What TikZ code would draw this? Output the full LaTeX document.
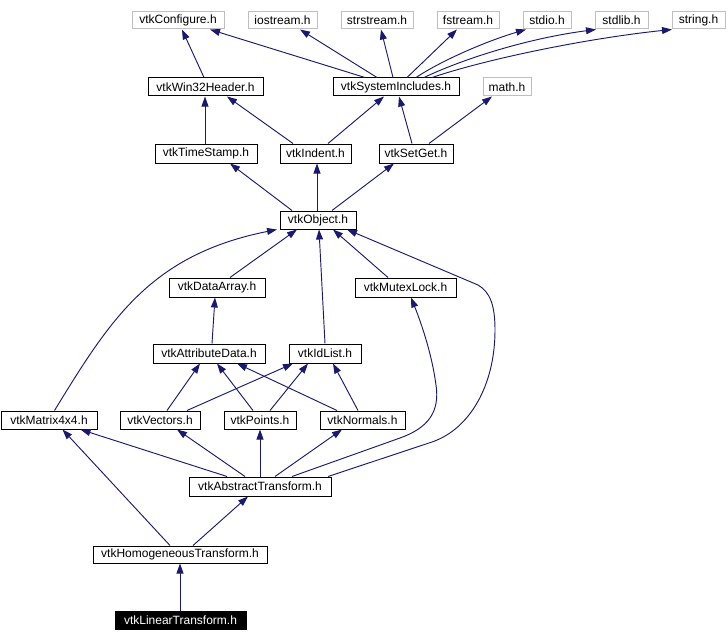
\documentclass[tikz,border=0pt]{standalone}
\usepackage{fontspec}
\setmainfont{Liberation Sans}
\usetikzlibrary{arrows.meta}
\definecolor{edgec}{HTML}{191970}
\definecolor{extc}{HTML}{BFBFBF}
% \hdr[style]{x1}{y1}{x2}{y2}{name}{text}  (pixel coordinates)
\newcommand{\hdr}[7][box]{\node[#1, minimum width={(#4-#2)*0.75pt}, minimum height={(#5-#3)*0.75pt}] (#6) at ({(#2+#4)/2},{(#3+#5)/2}) {#7};}
% \edge{src}{xoff}{dst}{xoff}
\newcommand{\edge}[4]{\draw[edgeline] ([xshift={(#2)*0.75pt}]#1.north) -- ([xshift={(#4)*0.75pt}]#3.south);}
\tikzset{
  box/.style={draw=black, line width=0.75pt, fill=white, inner sep=0pt, text=black, font=\fontsize{9}{10}\selectfont},
  ext/.style={box, draw=extc},
  cur/.style={box, fill=black, text=white},
  edgeline/.style={draw=edgec, line width=0.7pt, -{Triangle[length=7.5pt,width=5.2pt]}}
}
\begin{document}
\begin{tikzpicture}[x=0.75pt,y=-0.75pt]
\useasboundingbox (0,0) rectangle (728,642);
\hdr[ext]{132}{12}{224}{29}{conf}{vtkConfigure.h}
\hdr[ext]{248}{12}{317}{29}{ios}{iostream.h}
\hdr[ext]{341}{12}{413}{29}{sstr}{strstream.h}
\hdr[ext]{437}{12}{499}{29}{fstr}{fstream.h}
\hdr[ext]{523}{12}{571}{29}{stdio}{stdio.h}
\hdr[ext]{595}{12}{648}{29}{stdlib}{stdlib.h}
\hdr[ext]{672}{12}{725}{29}{str}{string.h}
\hdr{148}{78}{263}{96}{win}{vtkWin32Header.h}
\hdr{333}{78}{459}{96}{sys}{vtkSystemIncludes.h}
\hdr[ext]{483}{78}{531}{96}{math}{math.h}
\hdr{155}{144}{257}{163}{ts}{vtkTimeStamp.h}
\hdr{280}{144}{351}{163}{ind}{vtkIndent.h}
\hdr{379}{144}{453}{163}{sg}{vtkSetGet.h}
\hdr{280}{211}{356}{229}{obj}{vtkObject.h}
\hdr{169}{278}{265}{297}{da}{vtkDataArray.h}
\hdr{355}{278}{456}{297}{mut}{vtkMutexLock.h}
\hdr{153}{344}{265}{363}{attr}{vtkAttributeData.h}
\hdr{289}{344}{361}{363}{idl}{vtkIdList.h}
\hdr{1}{411}{97}{429}{mat}{vtkMatrix4x4.h}
\hdr{120}{411}{200}{429}{vec}{vtkVectors.h}
\hdr{224}{411}{296}{429}{pts}{vtkPoints.h}
\hdr{320}{411}{405}{429}{nrm}{vtkNormals.h}
\hdr{189}{477}{331}{496}{abs}{vtkAbstractTransform.h}
\hdr{93}{546}{267}{563}{hom}{vtkHomogeneousTransform.h}
\hdr[cur]{115}{611}{246}{629}{lin}{vtkLinearTransform.h}
% edges
\edge{win}{-1.5}{conf}{4}
\edge{sys}{-31}{conf}{32}
\edge{sys}{-19}{ios}{17.5}
\edge{sys}{-3}{sstr}{4}
\edge{sys}{11}{fstr}{-11}
\draw[edgeline] ([xshift={20*0.75pt}]sys.north) .. controls (444,59) and (490,40) .. ([xshift={-21*0.75pt}]stdio.south);
\draw[edgeline] ([xshift={28*0.75pt}]sys.north) .. controls (465,58) and (530,38) .. ([xshift={-25.5*0.75pt}]stdlib.south);
\draw[edgeline] ([xshift={36*0.75pt}]sys.north) .. controls (490,58) and (590,38) .. ([xshift={-26.5*0.75pt}]str.south);
\edge{ts}{-1}{win}{-0.5}
\edge{ind}{-22.5}{win}{21.5}
\edge{ind}{12.5}{sys}{-12}
\edge{sg}{-4}{sys}{3}
\edge{sg}{13}{math}{-15}
\edge{obj}{-26}{ts}{24}
\edge{obj}{-1}{ind}{1.5}
\edge{obj}{14}{sg}{-22}
\edge{da}{13}{obj}{-21}
\edge{mut}{-17.5}{obj}{15}
\edge{idl}{0}{obj}{1}
\draw[edgeline] ([xshift={5.5*0.75pt}]mat.north) .. controls (110,320) and (150,255) .. ([xshift={-41*0.75pt}]obj.south);
\draw[edgeline] ([xshift={68*0.75pt}]abs.north) -- (432,442) .. controls (470,429) and (495,385) .. (495,330) .. controls (495,305) and (490,292) .. (478,285) -- ([xshift={29*0.75pt}]obj.south);
\draw[edgeline] ([xshift={32*0.75pt}]abs.north) -- (400,438) .. controls (428,428) and (440,412) .. (436,385) .. controls (432,355) and (422,325) .. ([xshift={5.5*0.75pt}]mut.south);
\edge{attr}{3}{da}{-2}
\edge{vec}{7}{attr}{-9}
\edge{vec}{27}{idl}{-32}
\edge{pts}{-7}{attr}{8}
\edge{pts}{10}{idl}{-17}
\edge{nrm}{-25.5}{attr}{28}
\edge{nrm}{-4.5}{idl}{8}
\edge{abs}{-33}{mat}{31.5}
\edge{abs}{-15}{vec}{17}
\edge{abs}{0}{pts}{0}
\edge{abs}{15}{nrm}{-20.5}
\edge{hom}{-10}{mat}{13.5}
\edge{hom}{13}{abs}{-12}
\edge{lin}{-0.5}{hom}{0}
\end{tikzpicture}
\end{document}
